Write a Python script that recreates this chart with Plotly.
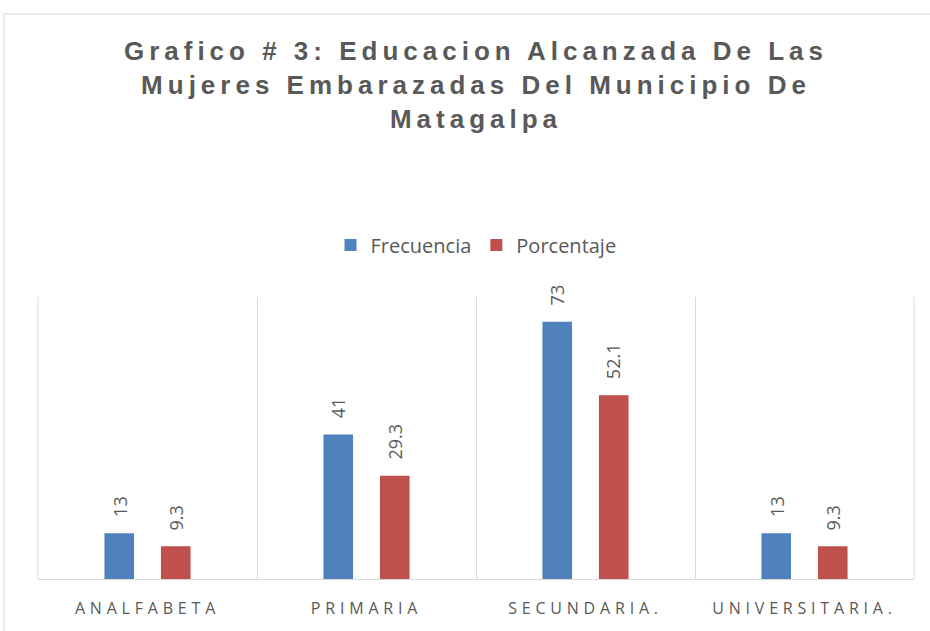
import plotly.graph_objects as go

categories = ["ANALFABETA", "PRIMARIA", "SECUNDARIA.", "UNIVERSITARIA."]
frecuencia = [13, 41, 73, 13]
porcentaje = [9.3, 29.3, 52.1, 9.3]
series_names = ["Frecuencia", "Porcentaje"]
series_colors = ["#4F81BD", "#C0504D"]
title_text = "Grafico # 3: Educacion Alcanzada De Las<br>Mujeres Embarazadas Del Municipio De<br>Matagalpa"

W, H = 930, 631
ML, MR, MT, MB = 38, 16, 297, 52
PW, PH = W - ML - MR, H - MT - MB

label_font = "'Open Sans', Calibri, Lato, sans-serif"
gray = "#595959"
grid = "#D9D9D9"

fig = go.Figure()
for name, vals, col in zip(series_names, [frecuencia, porcentaje], series_colors):
    fig.add_trace(go.Bar(
        x=categories, y=vals, name=name,
        marker=dict(color=col, line=dict(width=0)),
        hoverinfo="x+y",
    ))

# data labels (rotated) above each bar
offsets = [-28.3, 28.3]
for vals, dx in zip([frecuencia, porcentaje], offsets):
    for c, v in zip(categories, vals):
        fig.add_annotation(
            x=c, y=v, xref="x", yref="y", text=str(v), showarrow=False,
            textangle=-90, xanchor="center", yanchor="bottom",
            xshift=dx, yshift=14,
            font=dict(family=label_font, size=18, color=gray),
        )

# chart area border
fig.add_shape(type="rect", xref="paper", yref="paper",
              x0=(4 - ML) / PW, x1=1.2, y0=-0.5, y1=(H - MB - 14) / PH,
              line=dict(color=grid, width=1), fillcolor="rgba(0,0,0,0)", layer="below")
# outer category boundary lines
for xe in (0, 1):
    fig.add_shape(type="line", xref="paper", yref="paper", x0=xe, x1=xe, y0=0, y1=1,
                  line=dict(color=grid, width=1), layer="below")

fig.update_layout(
    width=W, height=H,
    margin=dict(l=ML, r=MR, t=MT, b=MB),
    paper_bgcolor="white", plot_bgcolor="white",
    barmode="group", bargap=0.484, bargroupgap=0.476,
    title=dict(
        text=title_text, x=0.5, xref="paper", xanchor="center",
        y=1 - 60 / H, yref="container", yanchor="top",
        font=dict(family="'Liberation Sans', Arial, sans-serif", size=26, color=gray, weight="bold"),
    ),
    legend=dict(
        orientation="h", x=0.5, xanchor="center", xref="paper",
        y=(H - MB - 245) / PH, yanchor="middle", yref="paper",
        font=dict(family=label_font, size=20, color=gray),
        itemwidth=30, tracegroupgap=0,
    ),
    xaxis=dict(
        type="category", range=[-0.5, 3.5], tickson="boundaries",
        showgrid=True, gridcolor=grid, gridwidth=1,
        showline=True, linecolor=grid, linewidth=1,
        ticks="", ticklabelstandoff=15,
        tickfont=dict(family=label_font, size=16, color=gray),
        zeroline=False, fixedrange=True,
    ),
    yaxis=dict(range=[0, 80], visible=False, showgrid=False, zeroline=False, fixedrange=True),
    showlegend=True,
)

post = """
document.body.style.margin='0';
var s=document.createElement('style');
s.textContent='.gtitle{letter-spacing:5px;} .xtick text{letter-spacing:4.8px;}';
document.head.appendChild(s);
"""
fig.write_html("out.html", post_script=post, config={"displayModeBar": False})
